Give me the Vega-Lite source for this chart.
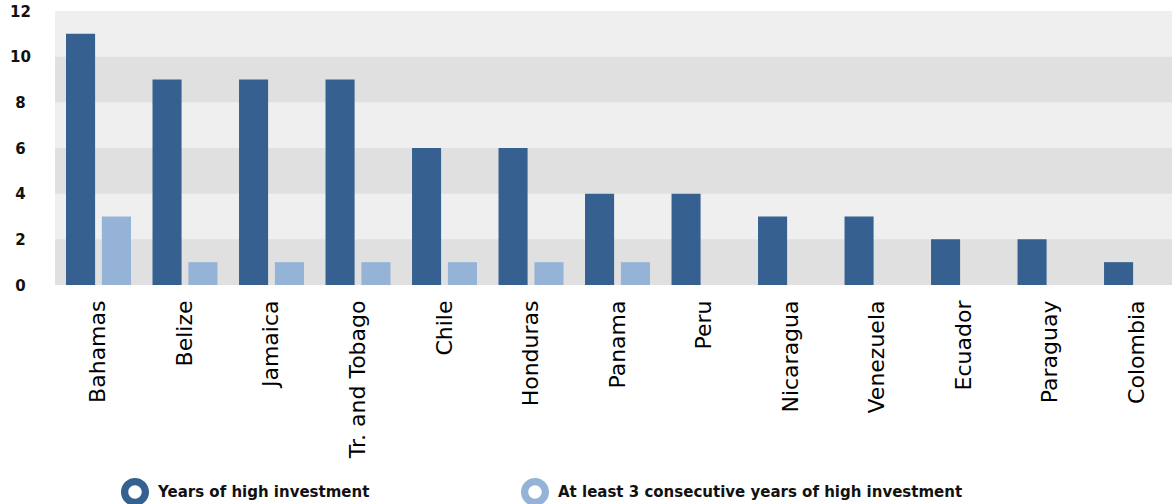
{
  "$schema": "https://vega.github.io/schema/vega-lite/v6.json",
  "width": 1117,
  "height": 274,
  "autosize": "none",
  "padding": {"left": 55, "top": 11, "right": 0, "bottom": 219},
  "background": "white",
  "config": {"view": {"stroke": null, "fill": "#efefef"}},
  "datasets": {
    "bands": [
      {"lo": 0, "hi": 2},
      {"lo": 4, "hi": 6},
      {"lo": 8, "hi": 10}
    ],
    "bars": [
      {"country": "Bahamas", "series": "Years of high investment", "value": 11},
      {"country": "Bahamas", "series": "At least 3 consecutive years of high investment", "value": 3},
      {"country": "Belize", "series": "Years of high investment", "value": 9},
      {"country": "Belize", "series": "At least 3 consecutive years of high investment", "value": 1},
      {"country": "Jamaica", "series": "Years of high investment", "value": 9},
      {"country": "Jamaica", "series": "At least 3 consecutive years of high investment", "value": 1},
      {"country": "Tr. and Tobago", "series": "Years of high investment", "value": 9},
      {"country": "Tr. and Tobago", "series": "At least 3 consecutive years of high investment", "value": 1},
      {"country": "Chile", "series": "Years of high investment", "value": 6},
      {"country": "Chile", "series": "At least 3 consecutive years of high investment", "value": 1},
      {"country": "Honduras", "series": "Years of high investment", "value": 6},
      {"country": "Honduras", "series": "At least 3 consecutive years of high investment", "value": 1},
      {"country": "Panama", "series": "Years of high investment", "value": 4},
      {"country": "Panama", "series": "At least 3 consecutive years of high investment", "value": 1},
      {"country": "Peru", "series": "Years of high investment", "value": 4},
      {"country": "Peru", "series": "At least 3 consecutive years of high investment", "value": 0},
      {"country": "Nicaragua", "series": "Years of high investment", "value": 3},
      {"country": "Nicaragua", "series": "At least 3 consecutive years of high investment", "value": 0},
      {"country": "Venezuela", "series": "Years of high investment", "value": 3},
      {"country": "Venezuela", "series": "At least 3 consecutive years of high investment", "value": 0},
      {"country": "Ecuador", "series": "Years of high investment", "value": 2},
      {"country": "Ecuador", "series": "At least 3 consecutive years of high investment", "value": 0},
      {"country": "Paraguay", "series": "Years of high investment", "value": 2},
      {"country": "Paraguay", "series": "At least 3 consecutive years of high investment", "value": 0},
      {"country": "Colombia", "series": "Years of high investment", "value": 1},
      {"country": "Colombia", "series": "At least 3 consecutive years of high investment", "value": 0}
    ]
  },
  "layer": [
    {
      "data": {"name": "bands"},
      "mark": {"type": "rect", "fill": "#e0e0e0"},
      "encoding": {
        "y": {
          "field": "lo", "type": "quantitative",
          "scale": {"domain": [0, 12], "nice": false},
          "axis": {
            "title": null, "domain": false, "ticks": false, "grid": false,
            "values": [0, 2, 4, 6, 8, 10, 12],
            "labelFont": "DejaVu Sans", "labelFontWeight": "bold", "labelFontSize": 15,
            "labelColor": "#111111", "labelAlign": "center", "labelPadding": 35
          }
        },
        "y2": {"field": "hi"}
      }
    },
    {
      "data": {"name": "bars"},
      "mark": {"type": "bar", "strokeWidth": 0},
      "encoding": {
        "x": {
          "field": "country", "type": "nominal", "sort": null,
          "scale": {"paddingInner": 0.249, "paddingOuter": 0.081, "align": 0.786},
          "axis": {
            "title": null, "domain": false, "ticks": false,
            "labelAngle": -90, "labelFont": "DejaVu Sans", "labelFontSize": 22,
            "labelColor": "#000000", "labelPadding": 15, "labelLimit": 300
          }
        },
        "xOffset": {
          "field": "series", "type": "nominal",
          "sort": ["Years of high investment", "At least 3 consecutive years of high investment"],
          "scale": {"paddingInner": 0.19, "paddingOuter": 0}
        },
        "y": {
          "field": "value", "type": "quantitative"
        },
        "color": {
          "field": "series", "type": "nominal",
          "sort": ["Years of high investment", "At least 3 consecutive years of high investment"],
          "scale": {
            "domain": ["Years of high investment", "At least 3 consecutive years of high investment"],
            "range": ["#356090", "#95b3d7"]
          },
          "legend": {
            "title": null,
            "orient": "none",
            "legendX": 66,
            "legendY": 467,
            "direction": "horizontal",
            "symbolType": "M -1 0 A 1 1 0 1 0 1 0 A 1 1 0 1 0 -1 0 Z M -0.48 0 A 0.48 0.48 0 1 1 0.48 0 A 0.48 0.48 0 1 1 -0.48 0 Z",
            "symbolSize": 784,
            "symbolStrokeWidth": 0,
            "columnPadding": 151,
            "labelOffset": 9,
            "labelFont": "DejaVu Sans",
            "labelFontWeight": "bold",
            "labelFontSize": 15,
            "labelColor": "#111111",
            "labelLimit": 600
          }
        }
      }
    }
  ]
}
